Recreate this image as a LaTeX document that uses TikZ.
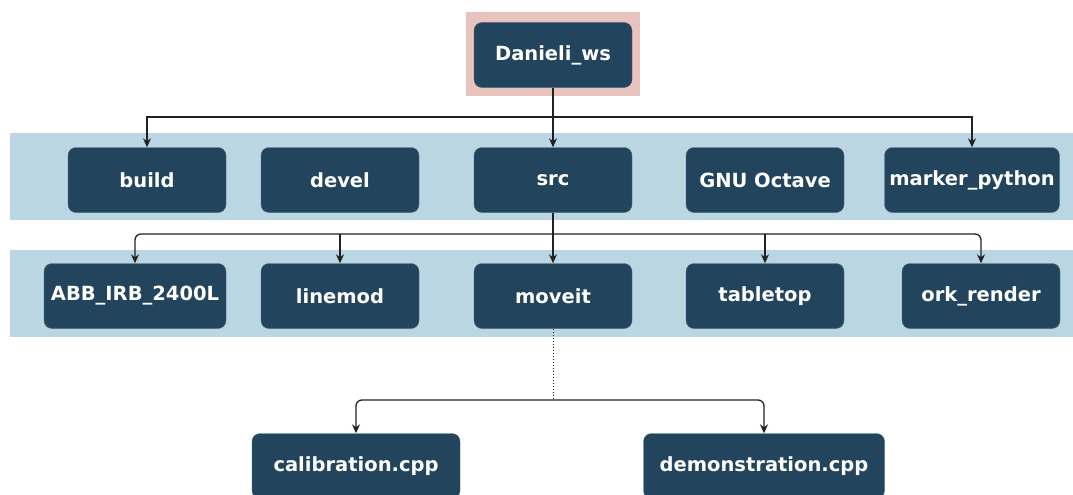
\documentclass[tikz,border=0pt]{standalone}
\usepackage{fontspec}
\setsansfont{DejaVu Sans}
\usetikzlibrary{positioning,arrows.meta}
\definecolor{navy}{HTML}{23445D}
\definecolor{band}{HTML}{BAD6E3}
\definecolor{rose}{HTML}{E9C4BF}
\definecolor{wire}{HTML}{222222}
\tikzset{
  dir/.style={rectangle, rounded corners=8pt, fill=navy, draw=navy!80!white,
    text=white, font=\sffamily\bfseries\fontsize{19.5}{23}\selectfont,
    minimum width=158pt, minimum height=65pt, inner sep=0pt},
  arr/.style={-{Stealth[length=9pt,width=8pt]}, draw=wire, line width=1.3pt},
}
\begin{document}
\begin{tikzpicture}[x=1pt, y=-1pt]
  \useasboundingbox (0,0) rectangle (1073,495);
  % bands behind the rows
  \fill[rose] (466,12) rectangle (640,96);
  \fill[band] (10,133) rectangle (1073,220);
  \fill[band] (10,250) rectangle (1073,337);

  \node [dir] (ws) at (553,55) {Danieli\_ws};

  \node [dir] (build) at (147,180) {build};
  \node [dir] (devel) at (340,180) {devel};
  \node [dir] (src)   at (553,180) {src};
  \node [dir] (oct)   at (765,180) {GNU Octave};
  \node [dir, minimum width=175pt] (mpy) at (972,180) {marker\_python};

  \node [dir, minimum width=182pt] (abb) at (135,296) {ABB\_IRB\_2400L};
  \node [dir] (lmod) at (340,296) {linemod};
  \node [dir] (mov)  at (553,296) {moveit};
  \node [dir] (tab)  at (765,296) {tabletop};
  \node [dir] (ork)  at (981,296) {ork\_render};

  \node [dir, minimum width=208pt] (cal) at (356,466) {calibration.cpp};
  \node [dir, minimum width=241pt] (dem) at (764,466) {demonstration.cpp};

  \coordinate (top) at (553,117);
  \coordinate (mid) at (553,234);
  \coordinate (split) at (553,400);

  % workspace to first row
  \draw [arr] (ws) -- (src);
  \draw [arr] (top) -| (build.north);
  \draw [arr] (top) -| (mpy.north);
  % src to second row
  \draw [arr] (src) -- (mov);
  \draw [arr, rounded corners=6pt] (mid) -| (abb.north);
  \draw [arr] (mid -| lmod) -- (lmod.north);
  \draw [arr] (mid -| tab) -- (tab.north);
  \draw [arr, rounded corners=6pt] (mid) -| (ork.north);
  % moveit sources
  \draw [wire, dotted, line width=1pt] (mov) -- (split);
  \draw [arr, rounded corners=6pt] (split) -| (cal.north);
  \draw [arr, rounded corners=6pt] (split) -| (dem.north);
\end{tikzpicture}
\end{document}
